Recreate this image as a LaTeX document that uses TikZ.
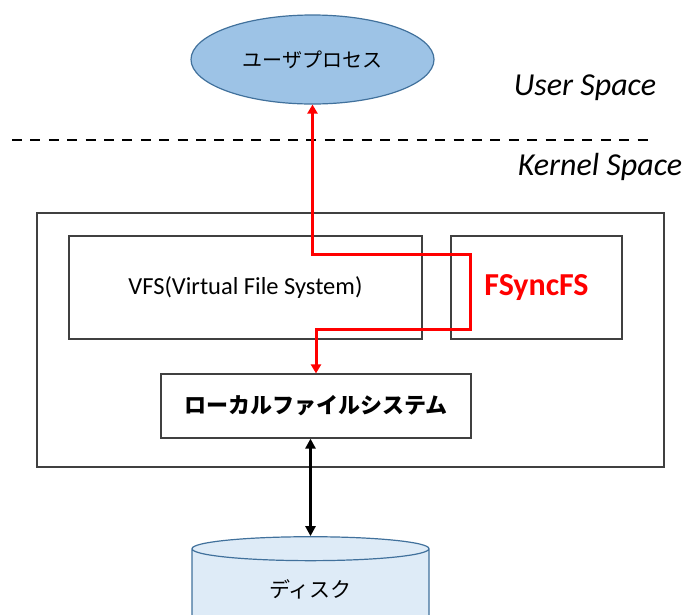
\documentclass[tikz,border=0pt]{standalone}
\usepackage{fontspec}
\setmainfont{Carlito}
\newfontfamily\jpfont{Noto Sans CJK JP}
\usetikzlibrary{arrows.meta,shapes.geometric}
\definecolor{procblue}{HTML}{9DC3E6}
\definecolor{procedge}{HTML}{41719C}
\definecolor{diskblue}{HTML}{DEEBF7}
\definecolor{boxgray}{HTML}{404040}

\begin{document}
\begin{tikzpicture}[x=1pt,y=-1pt]
					\tikzstyle{box}=[rectangle,draw=boxgray,line width=1.2pt,inner sep=0pt]
					\tikzstyle{space}=[font=\fontsize{32}{34}\selectfont\itshape,anchor=base]
					\tikzstyle{redpath}=[draw=red,line width=3pt,{Triangle[length=9pt,width=10pt]}-{Triangle[length=9pt,width=10pt]}]
					\tikzstyle{blackpath}=[draw=black,line width=2.5pt,{Triangle[length=10pt,width=10pt]}-{Triangle[length=10pt,width=10pt]}]
					\useasboundingbox (0,0) rectangle (687,614);
					\clip (0,0) rectangle (687,614);
					\node[ellipse,draw=procedge,line width=1.2pt,fill=procblue,minimum width=243pt,minimum height=89pt,inner sep=0pt,font=\jpfont\fontsize{20}{22}\selectfont] (user) at (312.5,59.5) {ユーザプロセス};
					\node[space] (userspace) at (585,95) {User Space};
					\node[space] (kernelspace) at (600,175) {Kernel Space};
					\draw[line width=2.8pt,dash pattern=on 10pt off 8.4pt] (12,140) -- (648,140);
					\node[box,minimum width=627pt,minimum height=254pt] (kernel) at (350.5,340) {};
					\node[box,minimum width=353pt,minimum height=103pt,font=\fontsize{24.5}{26}\selectfont] (vfs) at (245.5,287.5) {VFS(Virtual File System)};
					\node[box,minimum width=171pt,minimum height=103pt,text=red,font=\fontsize{32}{34}\selectfont\bfseries] (fsync) at (536.5,287.5) {FSyncFS};
					\node[box,minimum width=310pt,minimum height=64pt,font=\jpfont\fontsize{22}{24}\selectfont\bfseries] (local) at (316,406) {ローカルファイルシステム};
					\node[cylinder,shape border rotate=90,aspect=0.29,draw=procedge,line width=1.2pt,fill=diskblue,minimum width=237pt,minimum height=92pt,inner sep=0pt,font=\jpfont\fontsize{21}{23}\selectfont] (disk) at (310.5,589) {ディスク};
					\coordinate (turn1) at (470,254);
					\coordinate (turn2) at (470,329);
					\draw[redpath] (user.south) |- (turn1) -- (turn2) -| (local.north);
					\draw[blackpath] (disk.north |- local.south) -- (disk.north);
\end{tikzpicture}
\end{document}
